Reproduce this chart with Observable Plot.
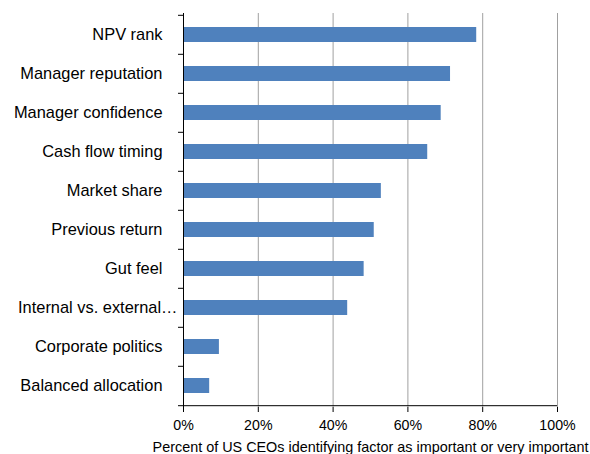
<!DOCTYPE html>
<html>
<head>
<meta charset="utf-8">
<script src="https://cdn.jsdelivr.net/npm/d3@7"></script>
<script src="https://cdn.jsdelivr.net/npm/@observablehq/plot@0.6"></script>
<style>
  html, body { margin: 0; padding: 0; background: #fff; }
  #chart { width: 590px; height: 454px; overflow: hidden; }
</style>
</head>
<body>
<div id="chart"></div>
<script>
// Factors ranked by share of US CEOs calling them important or very important
const factors = [
  "NPV rank",
  "Manager reputation",
  "Manager confidence",
  "Cash flow timing",
  "Market share",
  "Previous return",
  "Gut feel",
  "Internal vs. external…",
  "Corporate politics",
  "Balanced allocation"
];
const shares = [78.4, 71.4, 68.9, 65.3, 52.9, 51.0, 48.3, 43.9, 9.6, 7.0];
const xTicks = [0, 20, 40, 60, 80, 100];
const xTitle = "Percent of US CEOs identifying factor as important or very important";

const data = factors.map((factor, i) => ({factor, share: shares[i]}));

const width = 590, height = 454;
const marginTop = 13, marginBottom = 47, marginLeft = 183, marginRight = 33;
const step = (height - marginTop - marginBottom) / factors.length;
const truncated = factors.filter(f => f.endsWith("…"));
const fullLabels = factors.filter(f => !f.endsWith("…"));

const chart = Plot.plot({
  width, height, marginTop, marginBottom, marginLeft, marginRight,
  style: {fontFamily: "'Liberation Sans', Arial, sans-serif", color: "#000", background: "#fff", overflow: "visible"},
  x: {domain: [0, 100], label: null},
  y: {domain: factors, padding: 0, label: null},
  marks: [
    Plot.gridX(xTicks, {stroke: "#a0a0a0", strokeOpacity: 1}),
    Plot.barX(data, {x: "share", y: "factor", fill: "#4f81bd", insetTop: 12, insetBottom: 12}),
    // left axis line and category boundary ticks
    Plot.ruleX([0], {stroke: "#000"}),
    Plot.ruleY(factors, {y: d => d, x1: 0, x2: 0, insetLeft: -5, dy: -step / 2, stroke: "#000"}),
    Plot.ruleY(factors.slice(-1), {y: d => d, x1: 0, x2: 0, insetLeft: -5, dy: step / 2, stroke: "#000"}),
    // bottom axis line
    Plot.ruleY(factors.slice(-1), {y: d => d, x1: 0, x2: 100, dy: step / 2, stroke: "#000"}),
    Plot.axisY(fullLabels, {tickSize: 0, tickPadding: 21, fontSize: 16.4, label: null}),
    Plot.axisY(truncated, {tickSize: 0, tickPadding: 6, fontSize: 16.4, label: null}),
    Plot.axisX(xTicks, {
      tickSize: 5, tickPadding: 7, fontSize: 14.2, stroke: "#000",
      tickFormat: d => d + "%", label: null
    }),
    Plot.text([xTitle], {frameAnchor: "bottom", dy: 40, lineAnchor: "middle", fontSize: 14.4, fill: "#000"})
  ]
});

document.getElementById("chart").appendChild(chart);
</script>
</body>
</html>
